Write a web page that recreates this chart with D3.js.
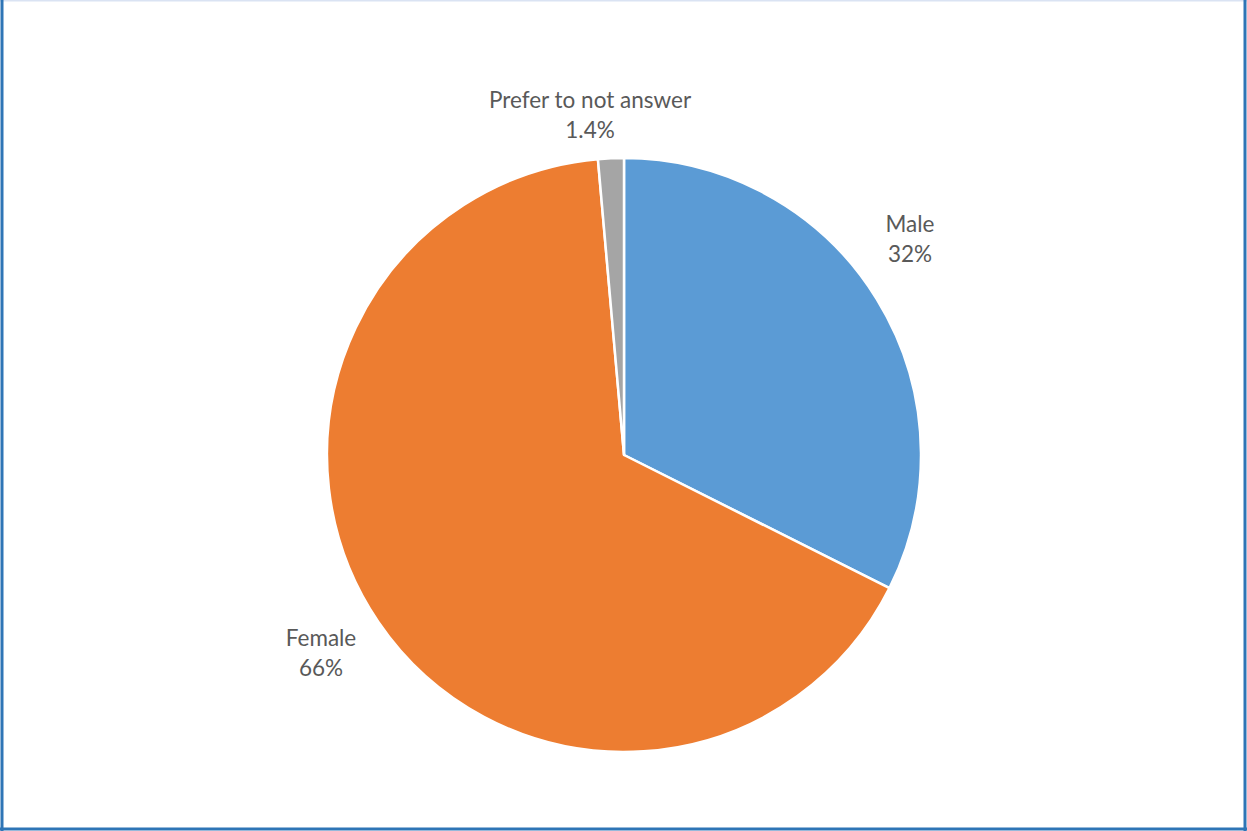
<!DOCTYPE html>
<html><head><meta charset="utf-8">
<script src="https://cdn.jsdelivr.net/npm/d3@7"></script>
<style>html,body{margin:0;padding:0;background:#fff;}</style>
</head><body>
<svg id="chart" width="1247" height="831"></svg>
<script>
const categories = ["Male", "Female", "Prefer to not answer"];
const values = [32.4, 66.2, 1.4];
const labels = ["32%", "66%", "1.4%"];
const colors = ["#5b9bd5", "#ed7d31", "#a5a5a5"];

const svg = d3.select("#chart");
const W = 1247, H = 831;
// border
svg.append("line").attr("x1",0).attr("x2",W).attr("y1",0.5).attr("y2",0.5).attr("stroke","#dae3f3").attr("stroke-width",2);
svg.append("line").attr("x1",2).attr("x2",2).attr("y1",0).attr("y2",H).attr("stroke","#2e75b6").attr("stroke-width",3);
svg.append("line").attr("x1",W-2).attr("x2",W-2).attr("y1",0).attr("y2",H).attr("stroke","#2e75b6").attr("stroke-width",3);
svg.append("line").attr("x1",0).attr("x2",W).attr("y1",H-2).attr("y2",H-2).attr("stroke","#2e75b6").attr("stroke-width",3);

const cx = 624, cy = 455, r = 297;
const pie = d3.pie().sort(null).value(d => d)(values);
const arc = d3.arc().innerRadius(0).outerRadius(r);
const g = svg.append("g").attr("transform", `translate(${cx},${cy})`);
g.selectAll("path").data(pie).join("path")
  .attr("d", arc)
  .attr("fill", (d,i) => colors[i])
  .attr("stroke", "#fff").attr("stroke-width", 2.5).attr("stroke-linejoin","round");

// label positions (offset from center, in px)
const labelPos = [[286, -223], [-303, 191], [-34, -347]];
const font = "Lato, 'Open Sans', sans-serif";
pie.forEach((d,i) => {
  const t = g.append("text").attr("text-anchor","middle")
    .attr("font-family", font).attr("font-size", 22.5).attr("fill", "#595959")
    .attr("transform", `translate(${labelPos[i][0]},${labelPos[i][1]})`);
  t.append("tspan").attr("x",0).attr("y",0).text(categories[i]);
  t.append("tspan").attr("x",0).attr("y",30).text(labels[i]);
});
</script>
</body></html>
